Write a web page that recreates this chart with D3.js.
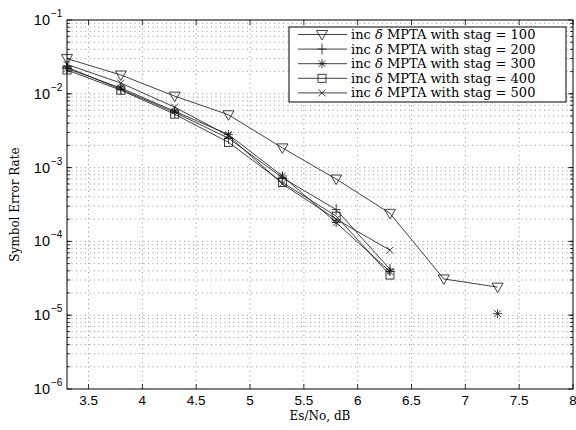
<!DOCTYPE html>
<html>
<head>
<meta charset="utf-8">
<script src="https://cdn.jsdelivr.net/npm/d3@7"></script>
<style>
  body { margin: 0; background: #fff; }
  svg { display: block; }
</style>
</head>
<body>
<svg width="576" height="430"></svg>
<script>
// Es/No points (dB)
var snr = [3.3, 3.8, 4.3, 4.8, 5.3, 5.8, 6.3, 6.8, 7.3];

// symbol error rate per stag value (null = no point)
var ser100 = [3.0e-2, 1.8e-2, 9.3e-3, 5.2e-3, 1.85e-3, 7.0e-4, 2.4e-4, 3.1e-5, 2.4e-5];
var ser200 = [2.3e-2, 1.15e-2, 5.6e-3, 2.5e-3, 7.3e-4, 2.7e-4, 4.2e-5, null, null];
var ser300 = [2.2e-2, 1.2e-2, 5.8e-3, 2.8e-3, 7.7e-4, 1.8e-4, 3.9e-5, null, 1.05e-5];
var ser400 = [2.1e-2, 1.12e-2, 5.3e-3, 2.2e-3, 6.3e-4, 2.2e-4, 3.5e-5, null, null];
var ser500 = [2.5e-2, 1.4e-2, 6.6e-3, 2.7e-3, 6.0e-4, 2.0e-4, 7.6e-5, null, null];

var stags = [100, 200, 300, 400, 500];
var markers = ["tri", "plus", "star", "square", "cross"];
var series = [ser100, ser200, ser300, ser400, ser500];

var xTicks = [3.5, 4, 4.5, 5, 5.5, 6, 6.5, 7, 7.5, 8];
var yDecades = [-6, -5, -4, -3, -2, -1];

var svg = d3.select("svg");
var pLeft = 67, pTop = 20, pRight = 573, pBottom = 389;
var serif = "DejaVu Serif, serif";
var sans = "Liberation Sans, Arial, sans-serif";

var x = d3.scaleLinear().domain([3.3, 8]).range([pLeft, pRight]);
var y = d3.scaleLog().domain([1e-6, 1e-1]).range([pBottom, pTop]);

var grid = svg.append("g")
  .attr("stroke", "#666")
  .attr("stroke-width", 0.7)
  .attr("stroke-dasharray", "1,3.5");

// vertical grid at major x ticks
grid.selectAll("line.vx")
  .data(xTicks.filter(function (d) { return d < 8; }))
  .enter().append("line")
  .attr("x1", function (d) { return x(d); })
  .attr("x2", function (d) { return x(d); })
  .attr("y1", pTop).attr("y2", pBottom);

// horizontal grid at every log tick
var yAll = [];
yDecades.forEach(function (e) {
  for (var m = 1; m <= 9; m++) {
    var v = m * Math.pow(10, e);
    if (v > 1e-6 * 1.01 && v < 1e-1 * 0.99) yAll.push(v);
  }
});
grid.selectAll("line.hy")
  .data(yAll)
  .enter().append("line")
  .attr("x1", pLeft).attr("x2", pRight)
  .attr("y1", function (d) { return y(d); })
  .attr("y2", function (d) { return y(d); });

// tick marks (inward, all four sides)
var ticks = svg.append("g").attr("stroke", "#000").attr("stroke-width", 0.8);
xTicks.forEach(function (d) {
  ticks.append("line").attr("x1", x(d)).attr("x2", x(d)).attr("y1", pBottom).attr("y2", pBottom - 5);
  ticks.append("line").attr("x1", x(d)).attr("x2", x(d)).attr("y1", pTop).attr("y2", pTop + 5);
});
yAll.forEach(function (d) {
  ticks.append("line").attr("x1", pLeft).attr("x2", pLeft + 3).attr("y1", y(d)).attr("y2", y(d));
  ticks.append("line").attr("x1", pRight).attr("x2", pRight - 3).attr("y1", y(d)).attr("y2", y(d));
});
yDecades.forEach(function (e) {
  var v = Math.pow(10, e);
  ticks.append("line").attr("x1", pLeft).attr("x2", pLeft + 5).attr("y1", y(v)).attr("y2", y(v));
  ticks.append("line").attr("x1", pRight).attr("x2", pRight - 5).attr("y1", y(v)).attr("y2", y(v));
});

// x tick labels
svg.append("g").selectAll("text")
  .data(xTicks)
  .enter().append("text")
  .attr("x", function (d) { return x(d); })
  .attr("y", pBottom + 16)
  .attr("text-anchor", "middle")
  .attr("font-family", sans)
  .attr("font-size", 13.5)
  .text(function (d) { return d; });

// y tick labels 10^e
var yl = svg.append("g")
  .attr("font-family", sans);
yDecades.forEach(function (e) {
  yl.append("text")
    .attr("x", 50)
    .attr("y", y(Math.pow(10, e)) + 5)
    .attr("text-anchor", "end")
    .attr("font-size", 14.5)
    .text("10");
  yl.append("text")
    .attr("x", 51)
    .attr("y", y(Math.pow(10, e)) - 3)
    .attr("font-size", 10)
    .text("\u2212" + Math.abs(e));
});

// axis labels
svg.append("text")
  .attr("x", 320)
  .attr("y", 420)
  .attr("text-anchor", "middle")
  .attr("font-family", serif)
  .attr("font-size", 12)
  .text("Es/No, dB");

svg.append("text")
  .attr("transform", "translate(19," + ((pTop + pBottom) / 2) + ") rotate(-90)")
  .attr("text-anchor", "middle")
  .attr("font-family", serif)
  .attr("font-size", 12)
  .text("Symbol Error Rate");

// marker drawing
function drawMarker(g, type, cx, cy) {
  var s = 4.5;
  if (type === "tri") {
    g.append("path")
      .attr("d", "M" + (cx - 5.5) + "," + (cy - 4) + "L" + (cx + 5.5) + "," + (cy - 4) + "L" + cx + "," + (cy + 5.5) + "Z")
      .attr("fill", "none");
  } else if (type === "plus") {
    g.append("path").attr("d", "M" + (cx - s) + "," + cy + "H" + (cx + s) + "M" + cx + "," + (cy - s - 1) + "V" + (cy + s + 1));
  } else if (type === "star") {
    var a = s * 0.75;
    g.append("path").attr("d",
      "M" + (cx - s) + "," + cy + "H" + (cx + s) +
      "M" + cx + "," + (cy - s) + "V" + (cy + s) +
      "M" + (cx - a) + "," + (cy - a) + "L" + (cx + a) + "," + (cy + a) +
      "M" + (cx - a) + "," + (cy + a) + "L" + (cx + a) + "," + (cy - a));
  } else if (type === "square") {
    g.append("rect").attr("x", cx - 4).attr("y", cy - 4).attr("width", 8).attr("height", 8).attr("fill", "none");
  } else if (type === "cross") {
    var c = 3.5;
    g.append("path").attr("d",
      "M" + (cx - c) + "," + (cy - c) + "L" + (cx + c) + "," + (cy + c) +
      "M" + (cx - c) + "," + (cy + c) + "L" + (cx + c) + "," + (cy - c));
  }
}

var line = d3.line()
  .defined(function (d) { return d[1] != null; })
  .x(function (d) { return x(d[0]); })
  .y(function (d) { return y(d[1]); });

var plot = svg.append("g")
  .attr("stroke", "#111")
  .attr("stroke-width", 0.8)
  .attr("fill", "none");

series.forEach(function (vals, i) {
  var pts = snr.map(function (s, j) { return [s, vals[j]]; });
  plot.append("path").attr("d", line(pts));
  var mg = plot.append("g");
  pts.forEach(function (p) {
    if (p[1] != null) drawMarker(mg, markers[i], x(p[0]), y(p[1]));
  });
});

// axes box
svg.append("rect")
  .attr("x", pLeft).attr("y", pTop)
  .attr("width", pRight - pLeft).attr("height", pBottom - pTop)
  .attr("fill", "none").attr("stroke", "#000").attr("stroke-width", 1);

// legend
var lg = svg.append("g");
lg.append("rect")
  .attr("x", 289).attr("y", 27).attr("width", 277).attr("height", 75)
  .attr("fill", "#fff").attr("stroke", "#000").attr("stroke-width", 1);

stags.forEach(function (s, i) {
  var ly = 34.5 + i * 14.6;
  var row = lg.append("g").attr("stroke", "#111").attr("stroke-width", 0.8).attr("fill", "none");
  row.append("line").attr("x1", 298).attr("x2", 347).attr("y1", ly).attr("y2", ly);
  drawMarker(row, markers[i], 322, ly);
  var t = lg.append("text")
    .attr("x", 351)
    .attr("y", ly + 4.5)
    .attr("font-family", serif)
    .attr("font-size", 13)
    .attr("fill", "#000");
  t.append("tspan").text("inc ");
  t.append("tspan").attr("font-style", "italic").text("\u03b4");
  t.append("tspan").text(" MPTA with stag = " + s);
});
</script>
</body>
</html>
